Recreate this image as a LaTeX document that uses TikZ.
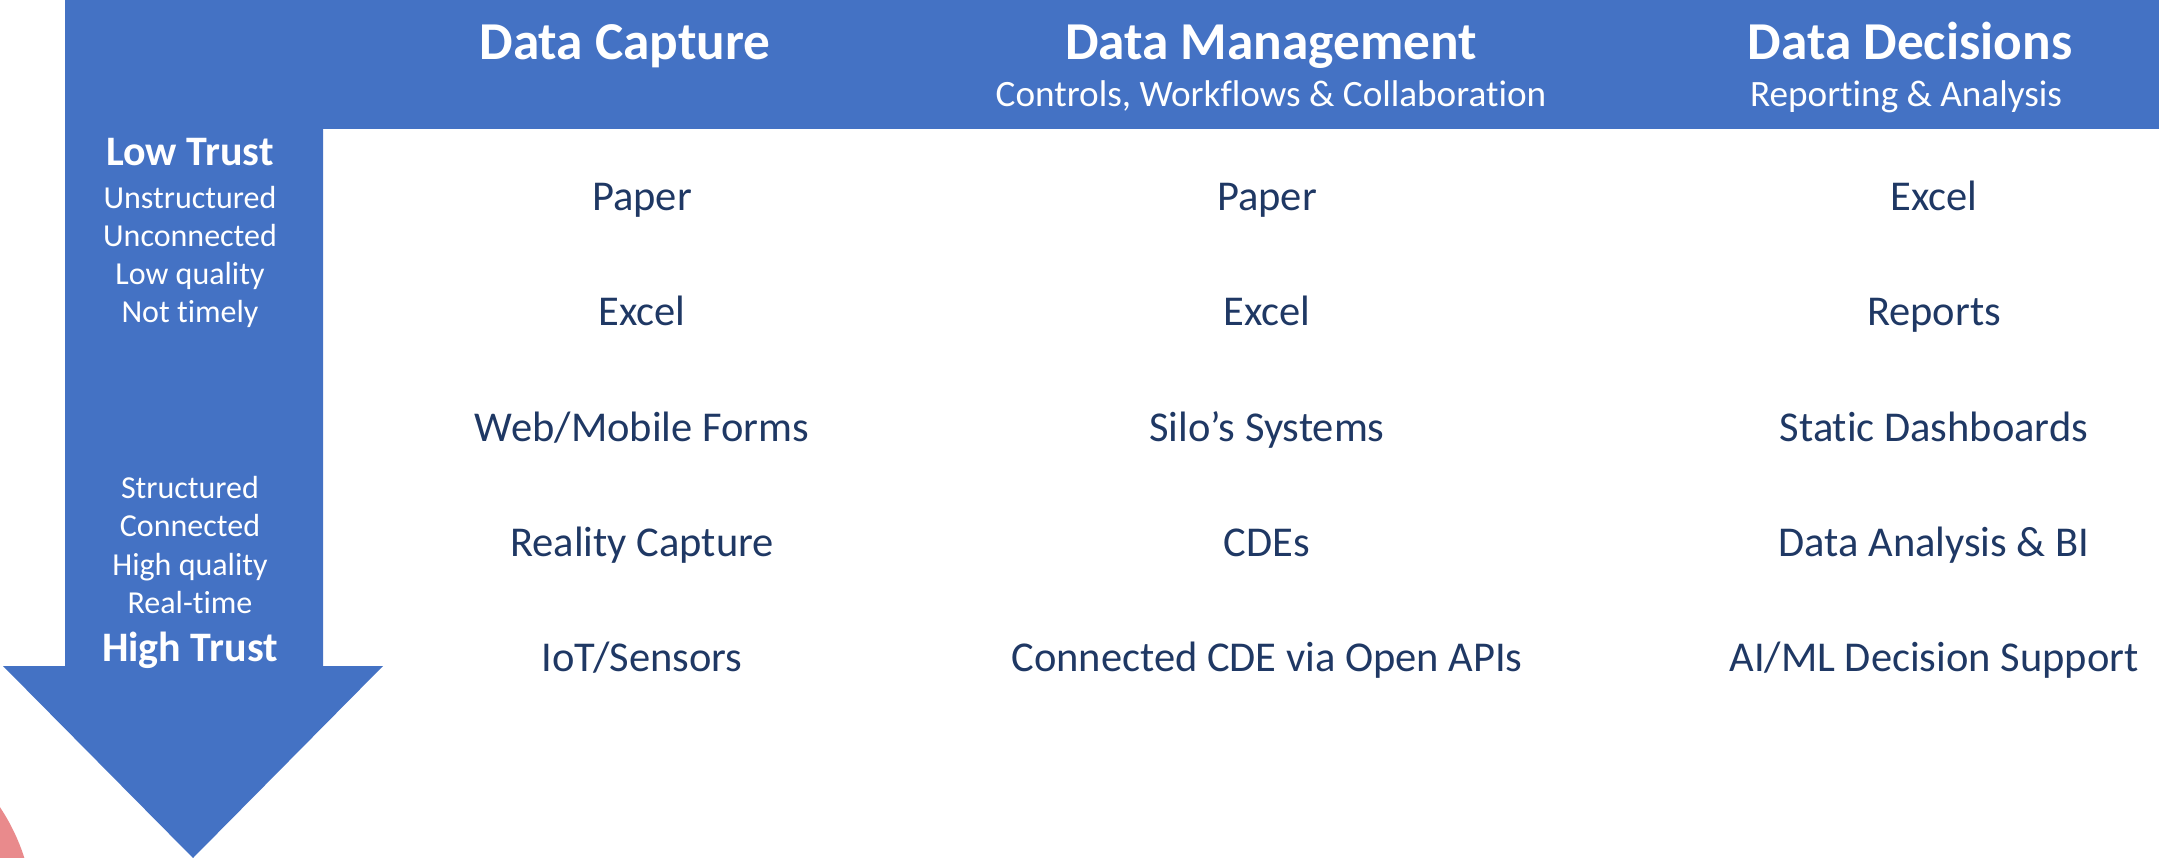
\documentclass[tikz,border=0pt]{standalone}
\usepackage{fontspec}
\setmainfont{Carlito}[Ligatures={NoCommon}]
\definecolor{bandblue}{HTML}{4472C4}
\definecolor{navy}{HTML}{1F3864}
\definecolor{rosy}{HTML}{E98A8C}
\begin{document}
\begin{tikzpicture}[x=1pt,y=-1pt,
  head/.style={text=white,anchor=base,font=\fontsize{53.3}{64}\selectfont\bfseries},
  sub/.style={text=white,anchor=base,font=\fontsize{37.2}{44}\selectfont},
  item/.style={text=navy,anchor=base,font=\fontsize{42.5}{51}\selectfont},
  side/.style={text=white,anchor=base,font=\fontsize{32}{38}\selectfont},
  trust/.style={text=white,anchor=base,font=\fontsize{42}{50}\selectfont\bfseries}]
\useasboundingbox (0,0) rectangle (2159,858);

%pink circle at the corner
\begin{scope}
\clip (0,0) rectangle (2159,858);
\fill[rosy] (-170,920) circle (204);
\end{scope}

%band and arrow
\fill[bandblue] (65,0) -- (2159,0) -- (2159,129) -- (323,129) -- (323,666) -- (383,666)
  -- (193,858) -- (3,666) -- (65,666) -- cycle;

%headers
\node[head] (Hcap) at (625,60) {Data Capture};
\node[head] (Hman) at (1271,60) {Data Management};
\node[sub] (Sman) at (1271,107) {Controls, Workflows \& Collaboration};
\node[head] (Hdec) at (1910,60) {Data Decisions};
\node[sub] (Sdec) at (1906,107) {Reporting \& Analysis};

%trust scale
\node[trust] (LT) at (190,166) {Low Trust};
\node[side] (L1) at (190,209) {Unstructured};
\node[side] (L2) at (190,247) {Unconnected};
\node[side] (L3) at (190,285) {Low quality};
\node[side] (L4) at (190,323) {Not timely};
\node[side] (H1) at (190,498) {Structured};
\node[side] (H2) at (190,536) {Connected};
\node[side] (H3) at (190,575) {High quality};
\node[side] (H4) at (190,613) {Real-time};
\node[trust] (HT) at (190,661) {High Trust};

%capture
\node[item] (C1) at (642,211) {Paper};
\node[item] (C2) at (642,326) {Excel};
\node[item] (C3) at (642,441) {Web/Mobile Forms};
\node[item] (C4) at (642,556) {Reality Capture};
\node[item] (C5) at (642,671) {IoT/Sensors};

%management
\node[item] (M1) at (1267,211) {Paper};
\node[item] (M2) at (1267,326) {Excel};
\node[item] (M3) at (1267,441) {Silo’s Systems};
\node[item] (M4) at (1267,556) {CDEs};
\node[item] (M5) at (1267,671) {Connected CDE via Open APIs};

%decisions
\node[item] (D1) at (1934,211) {Excel};
\node[item] (D2) at (1934,326) {Reports};
\node[item] (D3) at (1934,441) {Static Dashboards};
\node[item] (D4) at (1934,556) {Data Analysis \& BI};
\node[item] (D5) at (1934,671) {AI/ML Decision Support};
\end{tikzpicture}
\end{document}
